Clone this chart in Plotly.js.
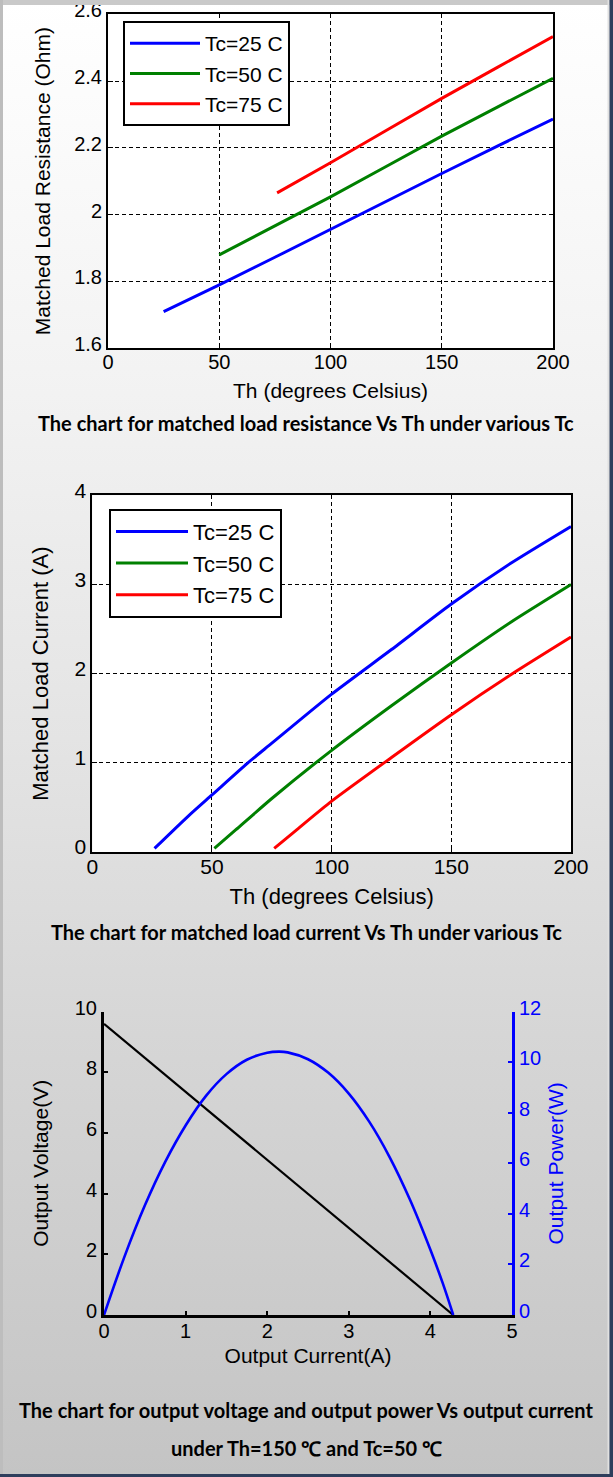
<!DOCTYPE html>
<html>
<head>
<meta charset="utf-8">
<script src="https://cdn.plot.ly/plotly-3.0.1.min.js"></script>
<style>
  html, body { margin: 0; padding: 0; }
  body {
    width: 613px; height: 1477px; overflow: hidden;
    background: linear-gradient(to bottom, #ffffff 0%, #f3f3f3 25%, #e4e4e4 50%, #d6d6d6 70%, #c4c4c4 100%);
  }
  #chart { width: 613px; height: 1477px; }
</style>
</head>
<body>
<div id="chart"></div>
<script>
// ---------- Chart 1: matched load resistance vs Th ----------
const resTh25 = [25, 50, 75, 100, 125, 150, 175, 200];
const resR25  = [1.709, 1.789, 1.872, 1.956, 2.040, 2.123, 2.205, 2.286];
const resTh50 = [50, 75, 100, 125, 150, 175, 200];
const resR50  = [1.879, 1.966, 2.053, 2.144, 2.235, 2.322, 2.408];
const resTh75 = [76, 100, 125, 150, 175, 200];
const resR75  = [2.065, 2.155, 2.252, 2.348, 2.441, 2.533];

// ---------- Chart 2: matched load current vs Th ----------
const curTh25 = [26, 40, 50, 65, 75, 100, 125, 150, 175, 200];
const curI25  = [0.04, 0.40, 0.64, 1.00, 1.22, 1.77, 2.27, 2.78, 3.24, 3.65];
const curTh50 = [51, 60, 75, 100, 125, 150, 175, 200];
const curI50  = [0.04, 0.25, 0.60, 1.14, 1.64, 2.12, 2.58, 3.00];
const curTh75 = [76, 85, 100, 125, 150, 175, 200];
const curI75  = [0.04, 0.24, 0.57, 1.06, 1.54, 1.99, 2.41];

const seriesNames = ['Tc=25 C', 'Tc=50 C', 'Tc=75 C'];
const seriesColors = ['#0000ff', '#008000', '#ff0000'];

// ---------- Chart 3: output voltage & power vs output current ----------
const outCurrentV = [0, 4.28];
const outVoltage  = [9.6, 0];
const outCurrentP = [0, 0.25, 0.5, 0.75, 1.0, 1.25, 1.5, 1.75, 2.0, 2.15, 2.25, 2.5, 2.75, 3.0, 3.25, 3.5, 3.75, 4.0, 4.15, 4.28];
const outPower    = [0, 2.30, 4.33, 6.06, 7.50, 8.67, 9.53, 10.10, 10.38, 10.42, 10.39, 10.12, 9.58, 8.76, 7.65, 6.25, 4.56, 2.58, 1.27, 0];

const xTicks12 = [0, 50, 100, 150, 200];
const yTicksR = [1.6, 1.8, 2.0, 2.2, 2.4, 2.6];
const yTicksRLabels = ['1.6', '1.8', '2', '2.2', '2.4', '2.6'];
const yTicksI = [0, 1, 2, 3, 4];
const xTicks3 = [0, 1, 2, 3, 4, 5];
const yTicksV = [0, 2, 4, 6, 8, 10];
const yTicksP = [0, 2, 4, 6, 8, 10, 12];

// ---------- layout helpers (pixel -> paper) ----------
const W = 613, H = 1477;
const px = v => v / W;
const py = v => 1 - v / H;
const FONT = 'Liberation Sans, Arial, sans-serif';
const CAPFONT = 'Lato, Carlito, sans-serif';

const traces = [];
[[resTh25, resR25], [resTh50, resR50], [resTh75, resR75]].forEach((s, i) => {
  traces.push({x: s[0], y: s[1], type: 'scatter', mode: 'lines', name: seriesNames[i],
    line: {color: seriesColors[i], width: 3}, xaxis: 'x', yaxis: 'y', legend: 'legend'});
});
[[curTh25, curI25], [curTh50, curI50], [curTh75, curI75]].forEach((s, i) => {
  traces.push({x: s[0], y: s[1], type: 'scatter', mode: 'lines', name: seriesNames[i],
    line: {color: seriesColors[i], width: 3, shape: 'spline', smoothing: 0.6}, xaxis: 'x2', yaxis: 'y2', legend: 'legend2'});
});
traces.push({x: outCurrentV, y: outVoltage, type: 'scatter', mode: 'lines', name: 'Output Voltage',
  line: {color: '#000000', width: 2.2}, xaxis: 'x3', yaxis: 'y3', showlegend: false});
traces.push({x: outCurrentP, y: outPower, type: 'scatter', mode: 'lines', name: 'Output Power',
  line: {color: '#0000ff', width: 2.6, shape: 'spline'}, xaxis: 'x3', yaxis: 'y4', showlegend: false});

const boxAxis = (extra) => Object.assign({
  showline: true, linecolor: '#000', linewidth: 2, mirror: true,
  ticks: 'inside', ticklen: 5, tickwidth: 1, tickcolor: '#000',
  showgrid: true, gridcolor: '#000', gridwidth: 1, griddash: '4px,3px',
  zeroline: false, fixedrange: true, ticklabeloverflow: 'allow'
}, extra);

const layout = {
  width: W, height: H,
  margin: {l: 0, r: 0, t: 0, b: 0},
  paper_bgcolor: 'rgba(0,0,0,0)',
  plot_bgcolor: 'rgba(0,0,0,0)',
  font: {family: FONT, color: '#000'},
  xaxis: boxAxis({domain: [px(108), px(553)], anchor: 'y', range: [0, 200], tickvals: xTicks12,
    tickfont: {size: 20}, ticklabelstandoff: -5,
    title: {text: 'Th (degrees Celsius)', font: {size: 21}, standoff: 11}}),
  yaxis: boxAxis({domain: [py(348), py(14.3)], anchor: 'x', range: [1.6, 2.6], tickvals: yTicksR,
    ticktext: yTicksRLabels, tickfont: {size: 20}, ticklabelshift: -4,
    title: {text: 'Matched Load Resistance (Ohm)', font: {size: 21}, standoff: 18}}),
  xaxis2: boxAxis({domain: [px(92.3), px(571)], anchor: 'y2', range: [0, 200], tickvals: xTicks12,
    tickfont: {size: 21}, ticklabelstandoff: -5,
    title: {text: 'Th (degrees Celsius)', font: {size: 22}, standoff: 11}}),
  yaxis2: boxAxis({domain: [py(852), py(495.3)], anchor: 'x2', range: [0, 4], tickvals: yTicksI,
    tickfont: {size: 21}, ticklabelshift: -5,
    title: {text: 'Matched Load Current (A)', font: {size: 22}, standoff: 20}}),
  xaxis3: {domain: [px(104), px(512)], anchor: 'y3', range: [0, 5], tickvals: xTicks3,
    showline: true, linecolor: '#000', linewidth: 3, ticks: 'inside', ticklen: 4, tickwidth: 2, tickcolor: '#000',
    showgrid: false, zeroline: false, tickfont: {size: 20}, ticklabelstandoff: -4, fixedrange: true, ticklabeloverflow: 'allow',
    title: {text: 'Output Current(A)', font: {size: 21}, standoff: 8}},
  yaxis3: {domain: [py(1315), py(1011.7)], anchor: 'x3', range: [0, 10], tickvals: yTicksV,
    showline: true, linecolor: '#000', linewidth: 3, ticks: 'inside', ticklen: 4, tickwidth: 2, tickcolor: '#000',
    showgrid: false, zeroline: false, tickfont: {size: 20}, ticklabelshift: -4, fixedrange: true, ticklabeloverflow: 'allow',
    title: {text: 'Output Voltage(V)', font: {size: 21}, standoff: 21}},
  yaxis4: {domain: [py(1315), py(1011.7)], anchor: 'x3', overlaying: 'y3', side: 'right', range: [0, 12], tickvals: yTicksP,
    showline: true, linecolor: '#0000ff', linewidth: 3, ticks: 'inside', ticklen: 4, tickwidth: 2, tickcolor: '#0000ff',
    showgrid: false, zeroline: false, tickfont: {size: 20, color: '#0000ff'}, ticklabelshift: -4, fixedrange: true, ticklabeloverflow: 'allow',
    title: {text: 'Output Power(W)', font: {size: 21, color: '#0000ff'}, standoff: 9}},
  legend: {x: px(123), y: py(21), xanchor: 'left', yanchor: 'top', bgcolor: '#fff',
    bordercolor: '#000', borderwidth: 2, font: {size: 21, color: '#000'}, itemwidth: 70, tracegroupgap: 0},
  legend2: {x: px(109), y: py(508.7), xanchor: 'left', yanchor: 'top', bgcolor: '#fff',
    bordercolor: '#000', borderwidth: 2, font: {size: 22, color: '#000'}, itemwidth: 72, tracegroupgap: 0},
  shapes: [
    {type: 'rect', xref: 'x domain', yref: 'y domain', x0: 0, x1: 1, y0: 0, y1: 1, fillcolor: '#fff', line: {width: 0}, layer: 'below'},
    {type: 'rect', xref: 'x2 domain', yref: 'y2 domain', x0: 0, x1: 1, y0: 0, y1: 1, fillcolor: '#fff', line: {width: 0}, layer: 'below'},
    // page frame
    {type: 'rect', xref: 'paper', yref: 'paper', x0: 0, x1: 1, y0: py(5), y1: 1, fillcolor: '#c9c9c9', line: {width: 0}, layer: 'above'},
    {type: 'rect', xref: 'paper', yref: 'paper', x0: 0, x1: px(3), y0: 0, y1: 1, fillcolor: '#bdbdbd', line: {width: 0}, layer: 'above'},
    {type: 'rect', xref: 'paper', yref: 'paper', x0: px(607.5), x1: px(609.5), y0: 0, y1: 1, fillcolor: '#e0e0e0', line: {width: 0}, layer: 'above'},
    {type: 'rect', xref: 'paper', yref: 'paper', x0: px(609.5), x1: 1, y0: 0, y1: 1, fillcolor: '#2e3e5c', line: {width: 0}, layer: 'above'},
    {type: 'rect', xref: 'paper', yref: 'paper', x0: 0, x1: 1, y0: 0, y1: py(1474), fillcolor: '#2e3e5c', line: {width: 0}, layer: 'above'}
  ],
  annotations: [
    {text: '<b>The chart for matched load resistance Vs Th under various Tc</b>', xref: 'paper', yref: 'paper',
      x: px(306), y: py(422.7), xanchor: 'center', yanchor: 'middle', showarrow: false, font: {family: CAPFONT, size: 20, color: '#000'}},
    {text: '<b>The chart for matched load current Vs Th under various Tc</b>', xref: 'paper', yref: 'paper',
      x: px(306), y: py(931.7), xanchor: 'center', yanchor: 'middle', showarrow: false, font: {family: CAPFONT, size: 20, color: '#000'}},
    {text: '<b>The chart for output voltage and output power Vs output current</b>', xref: 'paper', yref: 'paper',
      x: px(305.5), y: py(1410), xanchor: 'center', yanchor: 'middle', showarrow: false, font: {family: CAPFONT, size: 20, color: '#000'}},
    {text: '<b>under Th=150 ℃ and Tc=50 ℃</b>', xref: 'paper', yref: 'paper',
      x: px(306), y: py(1448), xanchor: 'center', yanchor: 'middle', showarrow: false, font: {family: CAPFONT, size: 20, color: '#000'}}
  ]
};

Plotly.newPlot('chart', traces, layout, {staticPlot: true, displayModeBar: false});
</script>
</body>
</html>
